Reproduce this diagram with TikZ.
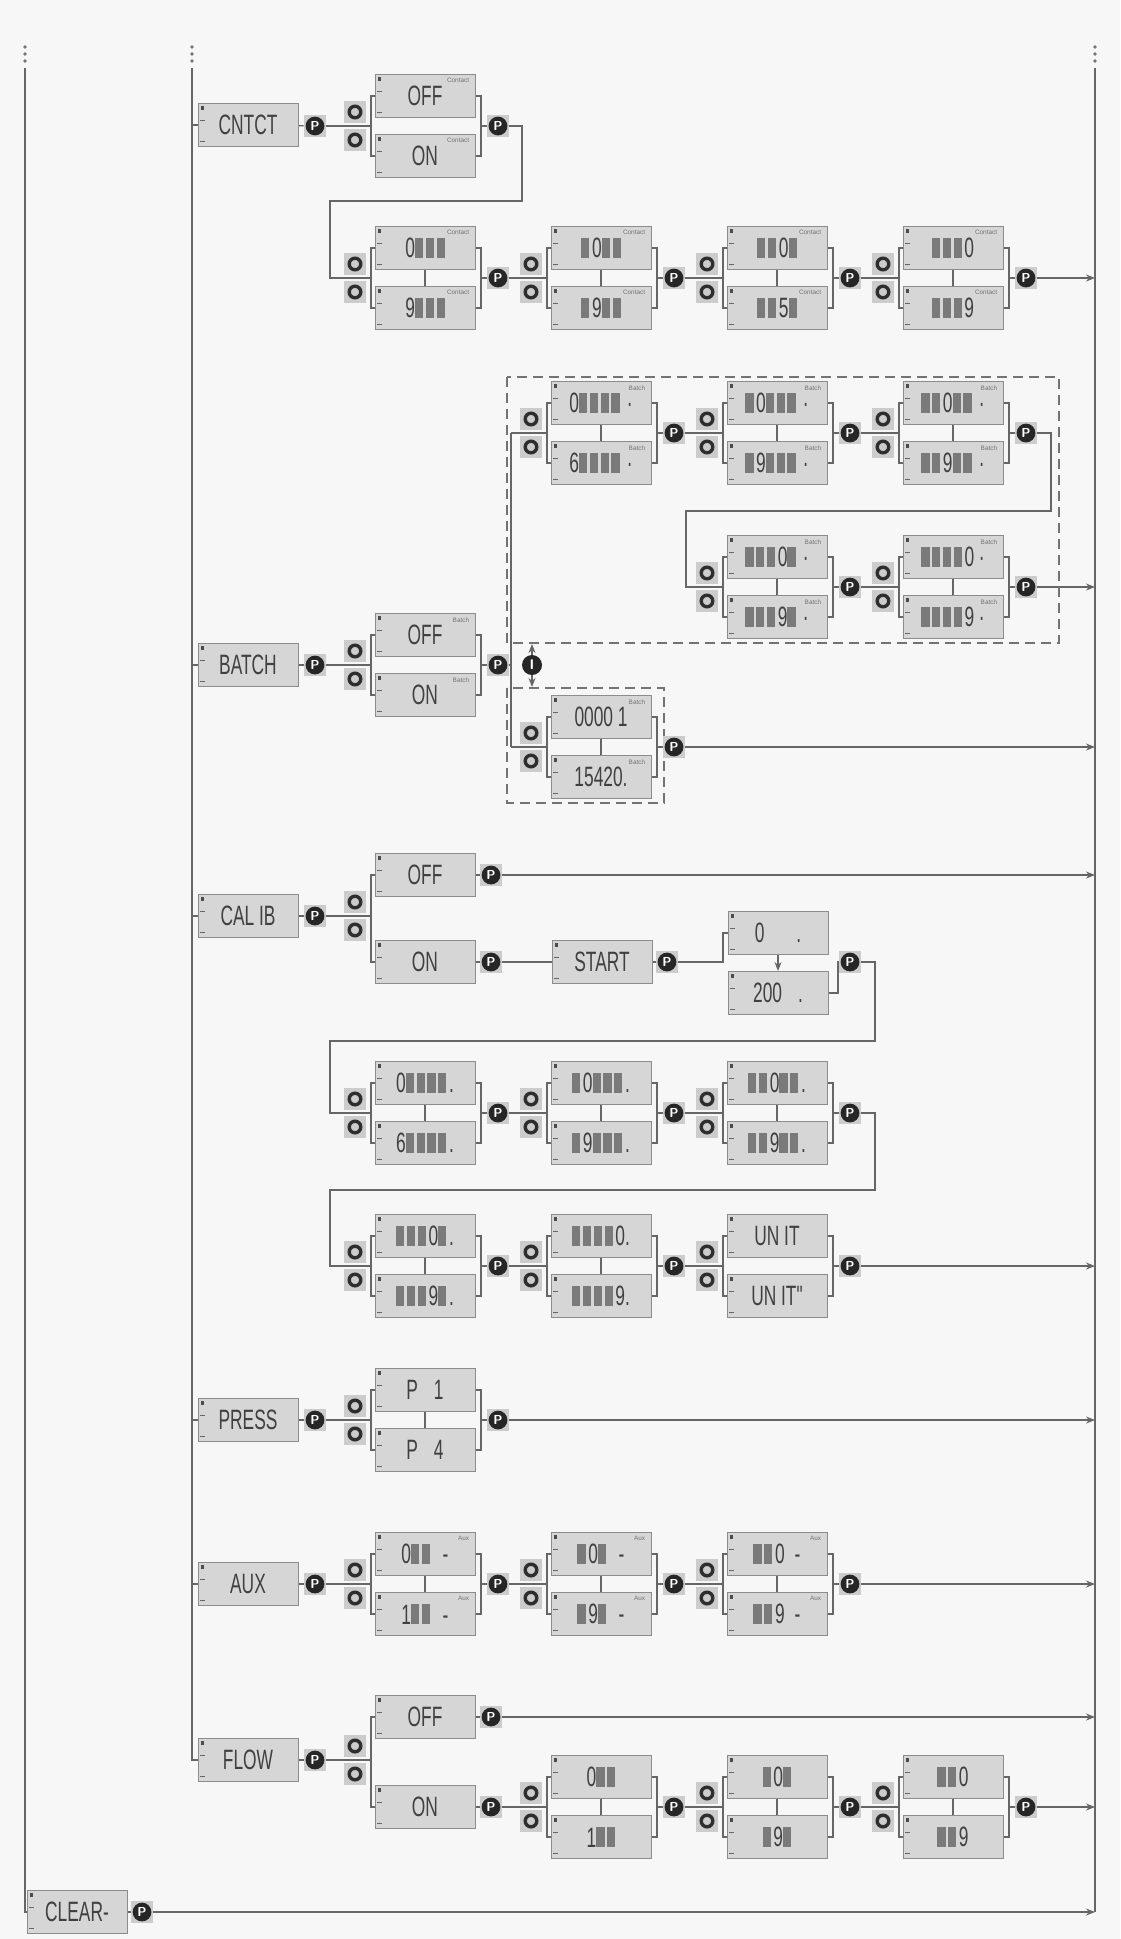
\documentclass[tikz,border=0pt]{standalone}
\usepackage{fontspec}
\usetikzlibrary{arrows.meta}
\newfontfamily\lcdfont{Liberation Sans}[FakeStretch=0.62]
\newfontfamily\tagfont{Liberation Sans}
\newcommand\blk{\textcolor{black!52}{\rule{4.1pt}{10pt}}\hspace{1.3pt}}
\pgfdeclarelayer{bg}\pgfsetlayers{bg,main}
\tikzset{
 ln/.style={draw=black!60, line width=0.6pt},
 arr/.style={ln, -{Stealth[length=4.5pt,width=3.5pt]}},
 dbox/.style={draw=black!55, line width=0.6pt, dash pattern=on 5pt off 3pt},
 lcd/.style={draw=black!45, fill=black!16, line width=0.5pt, minimum width=50pt, minimum height=21.5pt, inner sep=0pt, text=black!75, font=\lcdfont\fontsize{14}{14}\selectfont,
  path picture={
   \fill[black!70] ([shift={(1.4pt,-1.4pt)}]path picture bounding box.north west) rectangle ++(1.6pt,-1.6pt);
   \draw[black!60,line width=0.4pt] ([shift={(1pt,-8.5pt)}]path picture bounding box.north west) -- ++(2.6pt,0);
   \draw[black!60,line width=0.4pt] ([shift={(1pt,2.5pt)}]path picture bounding box.south west) -- ++(2.6pt,0);}},
 updn/.style={minimum size=11pt, inner sep=0pt, fill=black!20,
  path picture={\draw[black!82,line width=1.7pt] (path picture bounding box.center) circle (2.9pt);}},
 pbtn/.style={minimum size=11pt, inner sep=0pt, fill=black!20, text=white, font=\sffamily\bfseries\fontsize{6.5}{6.5}\selectfont,
  path picture={\fill[black!85] (path picture bounding box.center) circle (4.7pt);}},
 tag/.style={font=\tagfont\fontsize{3.2}{3.2}\selectfont, text=black!55, inner sep=0pt},
}
\newcommand\grp[6]{%
 \node[lcd] (#1t) at (#2+70,#3-30) {#4};
 \node[lcd] (#1b) at (#2+70,#3+30) {#5};
 \node[updn] (#1u) at (#2,#3-14) {};
 \node[updn] (#1d) at (#2,#3+14) {};
 \coordinate (#1l) at (#2+16,#3);
 \coordinate (#1r) at (#2+126,#3);
 \node[pbtn] (#1p) at (#2+143,#3) {P};
 \begin{pgfonlayer}{bg}
 \draw[ln] (#1t.west) -| (#1l) |- (#1b.west);
 \draw[ln] (#1t.east) -| (#1r) |- (#1b.east);
 \draw[ln] (#1r) -- (#1p);
 \end{pgfonlayer}
 \if\relax\detokenize{#6}\relax\else
  \node[tag,anchor=north east] (#1tt) at ([shift={(-3pt,-2pt)}]#1t.north east) {#6};
  \node[tag,anchor=north east] (#1bt) at ([shift={(-3pt,-2pt)}]#1b.north east) {#6};
 \fi}
\newcommand\grpm[6]{\grp{#1}{#2}{#3}{#4}{#5}{#6}%
 \begin{pgfonlayer}{bg}\draw[ln] (#1t.south) -- (#1b.north);\end{pgfonlayer}}
\newcommand\lnk[2]{\begin{pgfonlayer}{bg}\draw[ln] (#1) -- (#2);\end{pgfonlayer}}
\newcommand\toR[1]{\begin{pgfonlayer}{bg}\draw[arr] (#1) -- (#1 -| R);\end{pgfonlayer}}
\begin{document}
\begin{tikzpicture}[x=0.5pt,y=-0.5pt]
\begin{pgfonlayer}{bg}
\fill[black!3] (0,0) rectangle (1120,1939);
\end{pgfonlayer}
\useasboundingbox (0,0) rectangle (1120,1939);
\coordinate (R) at (1095,0);
\coordinate (L1) at (25,68);
\coordinate (L2) at (192,68);
\coordinate (R1) at (1095,68);
% ---- vertical rails
\foreach \xx in {25,192,1095}{\foreach \yy in {47,54,61}{\fill[black!55] (\xx,\yy) circle (0.9pt);}}
% ---- CNTCT
\node[lcd] (mc) at (248,125) {CNTCT};
\node[pbtn] (mcp) at (315,126) {P};
\grp{ca}{355}{126}{OFF}{ON}{Contact}
\lnk{mc}{mcp}\lnk{mcp}{cal}
\grpm{cb1}{355}{278}{0\blk\blk\blk}{9\blk\blk\blk}{Contact}
\grpm{cb2}{531}{278}{\blk 0\blk\blk}{\blk 9\blk\blk}{Contact}
\grpm{cb3}{707}{278}{\blk\blk 0\blk}{\blk\blk 5\blk}{Contact}
\grpm{cb4}{883}{278}{\blk\blk\blk 0}{\blk\blk\blk 9}{Contact}
\begin{pgfonlayer}{bg}\draw[ln] (cap) -| (522,201) -| (330,278) -- (cb1l);\end{pgfonlayer}
\lnk{cb1p}{cb2l}\lnk{cb2p}{cb3l}\lnk{cb3p}{cb4l}\toR{cb4p}
% ---- BATCH
\node[lcd] (mb) at (248,665) {BATCH};
\node[pbtn] (mbp) at (315,665) {P};
\grp{ba}{355}{665}{OFF}{ON}{Batch}
\lnk{mb}{mbp}\lnk{mbp}{bal}
\coordinate (bj) at (511,665);
\coordinate (bjt) at (511,433);
\coordinate (bjb) at (511,747);
\draw[dbox] (507,377) rectangle (1059,643);
\draw[dbox] (507,688) rectangle (664,803);
\grpm{bA1}{531}{433}{0\blk\blk\blk\blk\,·}{6\blk\blk\blk\blk\,·}{Batch}
\grpm{bA2}{707}{433}{\blk 0\blk\blk\blk\,·}{\blk 9\blk\blk\blk\,·}{Batch}
\grpm{bA3}{883}{433}{\blk\blk 0\blk\blk\,·}{\blk\blk 9\blk\blk\,·}{Batch}
\grpm{bB1}{707}{587}{\blk\blk\blk 0\blk\,·}{\blk\blk\blk 9\blk\,·}{Batch}
\grpm{bB2}{883}{587}{\blk\blk\blk\blk 0\,·}{\blk\blk\blk\blk 9\,·}{Batch}
\grpm{bL}{531}{747}{0000\,1}{15420.}{Batch}
\begin{pgfonlayer}{bg}
\draw[ln] (bap) -- (bj);
\draw[ln] (bjt) -- (bjb);
\draw[ln] (bjt) -- (bA1l);
\draw[ln] (bjb) -- (bLl);
\draw[ln] (bA3p) -| (1051,511) -| (686,587) -- (bB1l);
\end{pgfonlayer}
\lnk{bA1p}{bA2l}\lnk{bA2p}{bA3l}\lnk{bB1p}{bB2l}\toR{bB2p}\toR{bLp}
\node[circle, fill=black!85, text=white, minimum size=10pt, inner sep=0pt, font=\sffamily\bfseries\fontsize{7}{7}\selectfont] (bi) at (532,665) {I};
\coordinate (bit) at (532,644);
\coordinate (bib) at (532,687);
\draw[arr] (bi.north) -- (bit);
\draw[arr] (bi.south) -- (bib);
% ---- CAL IB
\node[lcd] (mk) at (248,916) {CAL IB};
\node[pbtn] (mkp) at (315,916) {P};
\node[lcd] (koff) at (425,875) {OFF};
\node[lcd] (kon) at (425,962) {ON};
\node[updn] (ku) at (355,902) {};
\node[updn] (kd) at (355,930) {};
\coordinate (kl) at (371,916);
\node[pbtn] (koffp) at (491,875) {P};
\node[pbtn] (konp) at (491,962) {P};
\node[lcd] (kst) at (602,962) {START};
\node[pbtn] (kstp) at (667,962) {P};
\node[lcd] (kz) at (778,933) {0\hspace{16pt}.};
\node[lcd] (kh) at (778,993) {200\hspace{8pt}.};
\node[pbtn] (khp) at (850,962) {P};
\grpm{kc1}{355}{1113}{0\blk\blk\blk\blk.}{6\blk\blk\blk\blk.}{}
\grpm{kc2}{531}{1113}{\blk 0\blk\blk\blk.}{\blk 9\blk\blk\blk.}{}
\grpm{kc3}{707}{1113}{\blk\blk 0\blk\blk.}{\blk\blk 9\blk\blk.}{}
\grpm{kd1}{355}{1266}{\blk\blk\blk 0\blk.}{\blk\blk\blk 9\blk.}{}
\grpm{kd2}{531}{1266}{\blk\blk\blk\blk 0.}{\blk\blk\blk\blk 9.}{}
\grp{kd3}{707}{1266}{UN IT}{UN IT\symbol{34}}{}
\begin{pgfonlayer}{bg}
\draw[ln] (mk) -- (mkp) -- (kl);
\draw[ln] (koff.west) -| (kl) |- (kon.west);
\draw[ln] (koff) -- (koffp);
\draw[ln] (kon) -- (konp) -- (kst) -- (kstp);
\draw[ln] (kstp) -| (723,933) -- (kz.west);
\draw[arr] (kz.south) -- (kh.north);
\draw[ln] (kh.east) -| (838,962) -- (khp);
\draw[ln] (khp) -| (875,1041) -| (330,1113) -- (kc1l);
\draw[ln] (kc3p) -| (875,1190) -| (330,1266) -- (kd1l);
\end{pgfonlayer}
\toR{koffp}
\lnk{kc1p}{kc2l}\lnk{kc2p}{kc3l}\lnk{kd1p}{kd2l}\lnk{kd2p}{kd3l}\toR{kd3p}
% ---- PRESS
\node[lcd] (mp) at (248,1420) {PRESS};
\node[pbtn] (mpp) at (315,1420) {P};
\grpm{pa}{355}{1420}{P\hspace{8pt}1}{P\hspace{8pt}4}{}
\lnk{mp}{mpp}\lnk{mpp}{pal}\toR{pap}
% ---- AUX
\node[lcd] (ma) at (248,1584) {AUX};
\node[pbtn] (map) at (315,1584) {P};
\grpm{xa1}{355}{1584}{0\blk\blk\hspace{5pt}-}{1\blk\blk\hspace{5pt}-}{Aux}
\grpm{xa2}{531}{1584}{\blk 0\blk\hspace{5pt}-}{\blk 9\blk\hspace{5pt}-}{Aux}
\grpm{xa3}{707}{1584}{\blk\blk 0\hspace{5pt}-}{\blk\blk 9\hspace{5pt}-}{Aux}
\lnk{ma}{map}\lnk{map}{xa1l}\lnk{xa1p}{xa2l}\lnk{xa2p}{xa3l}\toR{xa3p}
% ---- FLOW
\node[lcd] (mf) at (248,1760) {FLOW};
\node[pbtn] (mfp) at (315,1760) {P};
\node[lcd] (foff) at (425,1717) {OFF};
\node[lcd] (fon) at (425,1807) {ON};
\node[updn] (fu) at (355,1746) {};
\node[updn] (fd) at (355,1774) {};
\coordinate (fl) at (371,1760);
\node[pbtn] (foffp) at (491,1717) {P};
\node[pbtn] (fonp) at (491,1807) {P};
\grpm{fg1}{531}{1807}{0\blk\blk}{1\blk\blk}{}
\grpm{fg2}{707}{1807}{\blk 0\blk}{\blk 9\blk}{}
\grpm{fg3}{883}{1807}{\blk\blk 0}{\blk\blk 9}{}
\begin{pgfonlayer}{bg}
\draw[ln] (mf) -- (mfp) -- (fl);
\draw[ln] (foff.west) -| (fl) |- (fon.west);
\draw[ln] (foff) -- (foffp);
\draw[ln] (fon) -- (fonp) -- (fg1l);
\end{pgfonlayer}
\lnk{fg1p}{fg2l}\lnk{fg2p}{fg3l}\toR{fg3p}\toR{foffp}
% ---- CLEAR
\node[lcd] (mcl) at (77,1912) {CLEAR-};
\node[pbtn] (mclp) at (142,1912) {P};
\lnk{mcl}{mclp}\toR{mclp}
% ---- rails
\begin{pgfonlayer}{bg}
\draw[ln] (L1) |- (mcl.west);
\draw[ln] (L2) |- (mf.west);
\draw[ln] (R1) -- (1095,1912);
\foreach \mm in {mc,mb,mk,mp,ma}{\draw[ln] (L2 |- \mm.west) -- (\mm.west);}
\end{pgfonlayer}
\end{tikzpicture}
\end{document}
